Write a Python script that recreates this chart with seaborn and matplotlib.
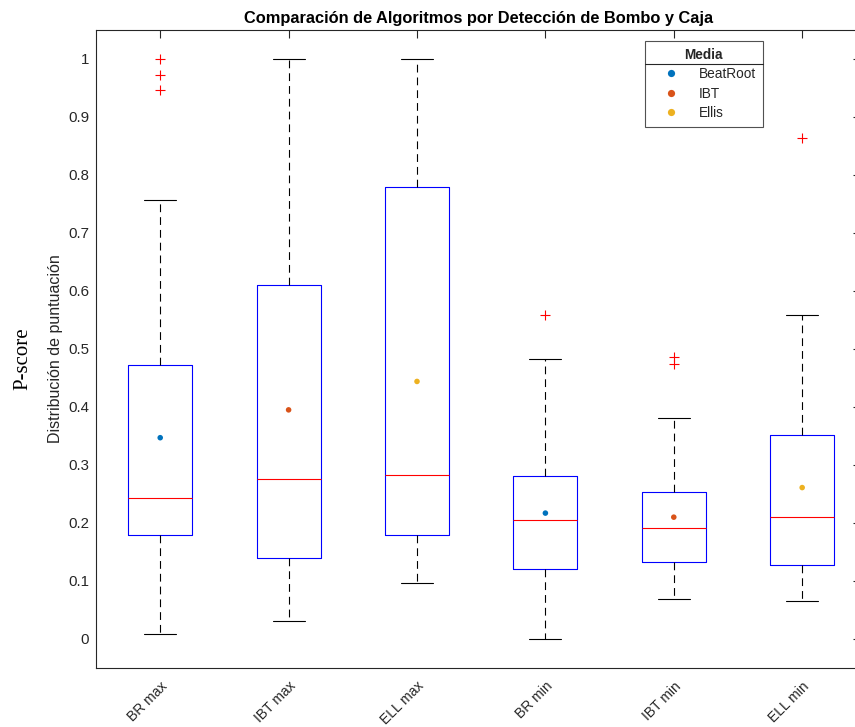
import numpy as np
import matplotlib
matplotlib.use("Agg")
import matplotlib.pyplot as plt
import seaborn as sns
import pandas as pd
from matplotlib.lines import Line2D

# ---------------- data ----------------
categories = ["BR max", "IBT max", "ELL max", "BR min", "IBT min", "ELL min"]
methods = ["BeatRoot", "IBT", "Ellis", "BeatRoot", "IBT", "Ellis"]
whisker_low = [0.009, 0.031, 0.097, 0.000, 0.069, 0.065]
q1 = [0.179, 0.140, 0.180, 0.120, 0.132, 0.128]
median = [0.243, 0.275, 0.283, 0.205, 0.191, 0.210]
q3 = [0.472, 0.610, 0.780, 0.281, 0.254, 0.352]
whisker_high = [0.757, 1.000, 1.000, 0.483, 0.381, 0.559]
outliers = [[0.946, 0.972, 1.000], [], [], [0.558], [0.474, 0.486], [0.864]]
means = [0.347, 0.395, 0.444, 0.217, 0.210, 0.261]
method_order = ["BeatRoot", "IBT", "Ellis"]
method_colors = ["#0072BD", "#D95319", "#EDB120"]
ytick_values = [0, 0.1, 0.2, 0.3, 0.4, 0.5, 0.6, 0.7, 0.8, 0.9, 1.0]
ytick_labels = ["0", "0.1", "0.2", "0.3", "0.4", "0.5", "0.6", "0.7", "0.8", "0.9", "1"]

# ---------------- style ----------------
sns.set_theme(style="white")
plt.rcParams["font.family"] = ["Liberation Sans", "DejaVu Sans"]
dark = "#262626"

fig = plt.figure(figsize=(8.55, 7.27), dpi=100)
ax = fig.add_axes([0.1123, 0.0812, 0.8947, 0.8776])

positions = np.arange(len(categories))
stats = []
for i, cat in enumerate(categories):
    stats.append(dict(label=cat, med=median[i], q1=q1[i], q3=q3[i],
                      whislo=whisker_low[i], whishi=whisker_high[i],
                      fliers=np.array(outliers[i])))

ax.bxp(stats, positions=positions, widths=0.5, capwidths=0.25,
       showfliers=True, manage_ticks=False,
       boxprops=dict(color="blue", linewidth=0.8),
       medianprops=dict(color="red", linewidth=0.8),
       whiskerprops=dict(color="black", linewidth=0.8, linestyle=(0, (7, 4.5))),
       capprops=dict(color="black", linewidth=0.8),
       flierprops=dict(marker="+", markeredgecolor="red", markersize=7,
                       markeredgewidth=0.8, linestyle="none"))

df = pd.DataFrame({"pos": positions, "mean": means, "method": methods})
sns.scatterplot(data=df, x="pos", y="mean", hue="method", hue_order=method_order,
                palette=method_colors, s=16, edgecolor="none", ax=ax, zorder=5)

ax.set_xlim(-0.5, 5.458)
ax.set_ylim(-0.05, 1.05)
ax.set_xticks(positions)
ax.set_xticklabels(categories, rotation=45, ha="right", rotation_mode="anchor", fontsize=10)
ax.set_yticks(ytick_values)
ax.set_yticklabels(ytick_labels, fontsize=10.8)
ax.tick_params(direction="in", length=5.8, width=0.8, colors=dark, top=True, right=True,
               labelcolor=dark, pad=5)
ax.tick_params(axis="x", pad=8)
for sp in ax.spines.values():
    sp.set_color(dark)
    sp.set_linewidth(0.8)
ax.set_xlabel("")
ax.set_ylabel("Distribución de puntuación", fontsize=11.5, color=dark, labelpad=3.4)
fig.text(0.0265, 0.506, "P-score", rotation=90, va="center", ha="center",
         fontsize=15, family=["Liberation Serif", "DejaVu Serif"], color="black")
ax.set_title("Comparación de Algoritmos por Detección de Bombo y Caja",
             fontweight="bold", fontsize=11.8, color="black", pad=5)

leg = ax.legend(title="Media", loc="upper left", bbox_to_anchor=(0.7176, 0.9828),
                borderaxespad=0, frameon=True, fancybox=False, edgecolor=dark, fontsize=9.8,
                title_fontproperties={"weight": "bold", "size": 9.8},
                handlelength=2.9, handletextpad=0.55, borderpad=0.5,
                labelspacing=0.4, markerscale=1.3)
leg.get_frame().set_linewidth(0.8)
leg.set_zorder(10)

fig.canvas.draw()
lb = leg.get_window_extent()
tb = leg.get_title().get_window_extent()
first = leg.get_texts()[0].get_window_extent()
inv = fig.transFigure.inverted()
ysep = 0.5 * (tb.y0 + first.y1)
(x0, y0) = inv.transform((lb.x0, ysep))
(x1, _) = inv.transform((lb.x1, ysep))
fig.add_artist(Line2D([x0, x1], [y0, y0], color=dark, linewidth=0.8, zorder=11))

fig.savefig("out.png", dpi=100)
